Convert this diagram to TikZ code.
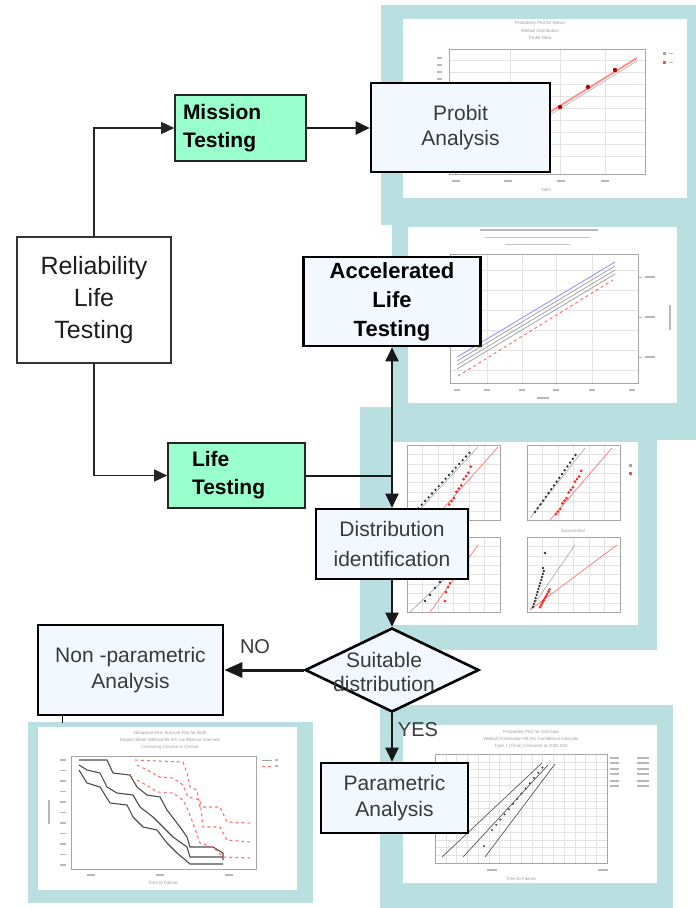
\documentclass[tikz,border=0pt]{standalone}
\usepackage{fontspec}
\setmainfont{Liberation Sans}
\usetikzlibrary{arrows.meta,shapes.geometric,calc}
\definecolor{panelteal}{HTML}{B9DFE1}
\definecolor{mint}{HTML}{99FFCC}
\definecolor{alice}{HTML}{F2F8FD}
\definecolor{txtgray}{HTML}{3A3A3A}
\newcommand\setfs[2]{\fontsize{#1}{#2}\selectfont}
\tikzset{
  panel/.style={fill=panelteal},
  inner/.style={fill=white},
  pframe/.style={draw=gray!70,line width=0.6pt},
  pgrid/.style={draw=gray!22,line width=0.4pt},
  tinyt/.style={font=\setfs{4.5}{5}, text=gray!75, inner sep=0pt},
  tickbar/.style={draw=gray!55,line width=1.2pt},
  whitebox/.style={draw=black!80,line width=1.3pt,fill=white,inner sep=0pt,align=center,
    font=\setfs{25}{32}, text=black!88},
  greenbox/.style={draw=black!85,line width=1.6pt,fill=mint,inner sep=0pt,align=left,
    font=\setfs{21}{28}\bfseries, text=black},
  bluebox/.style={draw=black,line width=2.6pt,fill=alice,inner sep=0pt,align=center,
    font=\setfs{21}{25}, text=txtgray},
  altbox/.style={bluebox,font=\setfs{22}{29}\bfseries,text=black},
  decision/.style={diamond,draw=black,line width=2.6pt,fill=alice,inner sep=0pt,aspect=2.07},
  conn/.style={draw=black!90,line width=2pt,-{Triangle[length=14pt,width=13pt]}},
  bigconn/.style={draw=black!90,line width=3pt,-{Triangle[length=18pt,width=15pt]}},
  thinconn/.style={draw=black!85,line width=1.5pt,-{Triangle[length=13pt,width=12pt]}},
  plainline/.style={draw=black!90,line width=2pt},
  lbl/.style={font=\setfs{20}{22},text=txtgray,inner sep=0pt}
}
\begin{document}
\begin{tikzpicture}[x=1pt,y=-1pt]
\useasboundingbox[fill=white] (0,0) rectangle (696,908);

% ---------------- Panel 1: probit plot ----------------
\fill[panel] (381,5) rectangle (696,225);
\fill[inner] (403,19) rectangle (687,198);
\foreach \yy in {60,72,84,96,108,120,132,144,156} \draw[pgrid] (449,\yy) -- (645,\yy);
\foreach \xx in {510,560,605} \draw[pgrid] (\xx,49) -- (\xx,174);
\draw[pframe] (449,49) rectangle (645,174);
\foreach \yy in {58,65,72,79,86,93,100} \draw[tickbar] (437,\yy) -- (442,\yy);
\foreach \xx in {456,508,561,605} \draw[tickbar] (\xx-4,181) -- (\xx+4,181);
\draw[gray!60,line width=0.6pt] (455,174) -- (637,61);
\draw[red!45,line width=1.8pt] (455,171) -- (637,58);
\foreach \p in {(560,107),(588,87),(615,70)} \fill[red!70!black] \p circle (2.2);
\node[tinyt] at (540,23) {Probability Plot for Blows};
\node[tinyt] at (540,31) {Weibull Distribution};
\node[tinyt] at (540,38) {Probit Data};
\node[tinyt] at (546,190) {Volts};
\fill[gray!70] (663,52) rectangle +(3,3);
\fill[red!70] (663,61) rectangle +(3,3);
\draw[tickbar] (669,53.5) -- (673,53.5);
\draw[tickbar] (669,62.5) -- (673,62.5);

% ---------------- Panel 2: relation plot ----------------
\fill[panel] (392,222) rectangle (696,440);
\fill[inner] (408,227) rectangle (677,403);
\foreach \yy in {270,290,310,330,350,370} \draw[pgrid] (450,\yy) -- (638,\yy);
\foreach \xx in {487,522,556,592} \draw[pgrid] (\xx,254) -- (\xx,383);
\draw[pframe] (450,254) rectangle (638,383);
\draw[blue!45,line width=0.8pt] (457,357) -- (615,262);
\foreach \d in {4,8,12} \draw[gray!65,line width=0.9pt] (457,357+\d) -- (615,262+\d);
\draw[red!60,line width=0.9pt,dashed] (458,376) -- (613,280);
\foreach \yy in {277,317,357} {\draw[gray!60] (638,\yy) -- (642,\yy); \draw[tickbar] (645,\yy) -- (655,\yy);}
\draw[tickbar] (670,305) -- (670,330);
\foreach \xx in {457,487,522,556,592,632} \draw[tickbar] (\xx-3,390) -- (\xx+3,390);
\draw[tickbar] (537,398) -- (549,398);
\draw[gray!55,line width=1.3pt] (480,230) -- (598,230);
\draw[gray!45,line width=1pt] (485,237) -- (590,237);
\draw[gray!45,line width=1pt] (505,244) -- (570,244);

% ---------------- Panel 3: distribution ID plots ----------------
\fill[panel] (360,407) rectangle (657,650);
\fill[inner] (393,442) rectangle (638,625);
\foreach \fx/\fy in {407/445,527/445,407/537,527/537} {
  \foreach \k in {1,...,7} \draw[pgrid] (\fx,\fy+\k*9.4) -- (\fx+93,\fy+\k*9.4);
  \foreach \k in {1,...,5} \draw[pgrid] (\fx+\k*15.5,\fy) -- (\fx+\k*15.5,\fy+75);
  \draw[pframe] (\fx,\fy) rectangle (\fx+93,\fy+75);
}
% top left
\draw[gray!70,line width=0.6pt] (410,520) -- (478,447);
\draw[red!60,line width=0.6pt] (433,520) -- (498,447);
\foreach \t in {0,...,16} \fill[black!80] ({415+\t*3.4},{512-\t*3.7}) circle (1.3);
\foreach \t in {0,...,12} \fill[red!85] ({442+\t*2.4},{517-\t*4.2+mod(\t,3)}) circle (1.5);
% top right
\draw[gray!70,line width=0.6pt] (530,518) -- (585,448);
\draw[red!60,line width=0.6pt] (550,520) -- (612,448);
\foreach \t in {0,...,15} \fill[black!80] ({535+\t*2.7},{512-\t*3.8}) circle (1.3);
\foreach \t in {0,...,12} \fill[red!85] ({556+\t*2.1},{514-\t*3.6+mod(\t,3)}) circle (1.5);
% bottom left
\draw[gray!70,line width=0.6pt] (410,612) -- (470,555);
\draw[red!60,line width=0.6pt] (430,612) -- (478,545);
\foreach \p in {(425,601),(430,595),(435,588),(440,582)} \fill[black!80] \p circle (1.3);
\foreach \p in {(445,601),(446,592),(448,587),(450,583)} \fill[red!85] \p circle (1.5);
% bottom right
\draw[gray!70,line width=0.6pt] (530,610) -- (575,545);
\draw[red!60,line width=0.6pt] (530,610) -- (617,545);
\foreach \t in {0,...,12} \fill[black!80] ({533+\t*0.9},{607-\t*3}) circle (1.3);
\fill[black!80] (545,553) circle (1.3);
\fill[black!80] (543,568) circle (1.3);
\foreach \t in {0,...,8} \fill[red!85] ({540+\t*1.2},{607-\t*2.2}) circle (1.5);
\node[tinyt] at (573,531) {Exponential};
\fill[gray!70] (629,464) rectangle +(3,3);
\fill[red!70] (629,472) rectangle +(3,3);

% ---------------- Panel 4: nonparametric survival ----------------
\fill[panel] (28,722) rectangle (313,903);
\fill[inner] (38,727) rectangle (297,890);
\draw[pframe] (71,756) rectangle (256,869);
\foreach \yy in {760,770.5,781,791.5,802,812.5,823,833.5,844,854.5,865} \draw[tickbar] (60,\yy) -- (66,\yy);
\draw[tickbar] (49,800) -- (49,824);
\foreach \xx in {91,160,229} \draw[tickbar] (\xx-4,875) -- (\xx+4,875);
\node[tinyt] at (163,883) {Time to Failure};
\node[tinyt] at (170,733) {Nonparametric Survival Plot for Both};
\node[tinyt] at (170,740) {Kaplan-Meier Method-95.0\% Confidence Intervals};
\node[tinyt] at (170,747) {Censoring Column in Censor};
\draw[gray!60!black,line width=1.1pt] (79,760) -- (107,760) -- (113,773) -- (130,775) -- (137,787) -- (147,795) -- (160,797) -- (167,810) -- (180,827) -- (187,837) -- (190,847) -- (213,847) -- (223,853) -- (223,860);
\draw[gray!60!black,line width=1.1pt] (79,765) -- (87,770) -- (100,773) -- (107,787) -- (117,793) -- (133,795) -- (140,807) -- (153,817) -- (163,827) -- (173,837) -- (187,847) -- (190,857) -- (223,857);
\draw[gray!60!black,line width=1.1pt] (79,770) -- (87,783) -- (100,787) -- (110,803) -- (127,805) -- (133,817) -- (143,827) -- (157,830) -- (167,843) -- (177,853) -- (190,864) -- (223,864);
\draw[red!55,line width=1.1pt,dashed] (135,760) -- (183,762) -- (187,773) -- (190,787) -- (197,790) -- (200,807) -- (220,807) -- (227,822) -- (250,823);
\draw[red!55,line width=1.1pt,dashed] (137,765) -- (147,770) -- (160,777) -- (173,778) -- (183,785) -- (188,797) -- (200,800) -- (203,827) -- (220,827) -- (227,840) -- (250,842);
\draw[red!55,line width=1.1pt,dashed] (137,780) -- (150,787) -- (157,792) -- (173,793) -- (183,800) -- (187,808) -- (193,823) -- (200,843) -- (213,847) -- (223,857) -- (250,858);
\draw[gray!70,line width=0.8pt] (262,760) -- (272,760);
\draw[red!55,line width=0.8pt,dashed] (262,766) -- (272,766);
\draw[tickbar] (275,760) -- (278,760);
\draw[tickbar] (275,766) -- (278,766);
\draw[black,line width=0.5pt] (62,716) -- (62,723);

% ---------------- Panel 5: parametric probability plot ----------------
\fill[panel] (380,705) rectangle (673,908);
\fill[inner] (403,725) rectangle (657,883);
\foreach \k in {1,...,13} \draw[pgrid] (435,754+\k*7.8) -- (607,754+\k*7.8);
\foreach \k in {1,...,15} \draw[pgrid] (435+\k*10.75,754) -- (435+\k*10.75,863);
\draw[pframe] (435,754) rectangle (607,863);
\draw[gray!70!black,line width=0.7pt] (442,857) -- (542,763);
\draw[gray!70!black,line width=0.7pt] (463,857) -- (548,765);
\draw[gray!70!black,line width=0.7pt] (485,857) -- (555,764);
\foreach \t in {0,...,12} \fill[black!75] ({492+\t*4.2},{830-\t*5.2}) circle (1.1);
\fill[black!75] (484,846) circle (1.2);
\node[tinyt] at (531,732) {Probability Plot for Old Data};
\node[tinyt] at (531,739) {Weibull Distribution-95.0\% Confidence Intervals};
\node[tinyt] at (531,746) {Type 1 (Time) Censored at 2000.000};
\node[tinyt] at (521,879) {Time to Failure};
\foreach \yy in {758,763,769,774,781,786} {\draw[tickbar] (610,\yy) -- (619,\yy); \draw[tickbar] (637,\yy) -- (649,\yy);}
\foreach \xx in {492,603} \draw[tickbar] (\xx-5,870) -- (\xx+5,870);

% ---------------- Flowchart ----------------
\node[whitebox,minimum width=154pt,minimum height=126pt] (rlt) at (94,300) {Reliability\\Life\\Testing};
\node[greenbox,minimum width=131pt,minimum height=66pt,text width=115pt] (mt) at (240.5,128) {Mission\\Testing};
\node[bluebox,minimum width=179pt,minimum height=89pt] (pa) at (460.5,127.5) {Probit\\Analysis};
\node[altbox,minimum width=177pt,minimum height=89pt] (alt) at (392,301.5) {Accelerated\\Life\\Testing};
\node[greenbox,minimum width=137pt,minimum height=65pt,text width=89pt] (lt) at (236.5,475.5) {Life\\Testing};
\node[bluebox,minimum width=152pt,minimum height=70pt,font=\setfs{21}{30}] (dist) at (392,544) {Distribution\\identification};
\node[decision,minimum width=174pt,minimum height=84pt] (dia) at (392,670) {};
\node[lbl,font=\setfs{21}{24},align=center] (diatxt) at (384,672) {Suitable\\distribution};
\node[bluebox,minimum width=185pt,minimum height=90pt,font=\setfs{21}{26}] (np) at (130.5,670) {Non -parametric\\Analysis};
\node[bluebox,minimum width=147pt,minimum height=70pt,font=\setfs{21}{26}] (par) at (394.5,798) {Parametric\\Analysis};

\coordinate (J) at (dist.north |- lt.east);
\draw[thinconn] (rlt.north) |- (mt.west);
\draw[thinconn] (rlt.south) |- (lt.west);
\draw[conn] (mt.east) -- (mt.east -| pa.west);
\draw[plainline] (lt.east) -- (J);
\draw[conn] (J) -- (alt.south);
\draw[conn] (J) -- (dist.north);
\draw[conn] (dist.south) -- (dia.north);
\draw[bigconn] (dia.west) -- (dia.west -| np.east);
\draw[conn] (dia.south) -- (dia.south |- par.north);
\node[lbl] (no) at (255,647) {NO};
\node[lbl] (yes) at (418,730) {YES};
\end{tikzpicture}
\end{document}
